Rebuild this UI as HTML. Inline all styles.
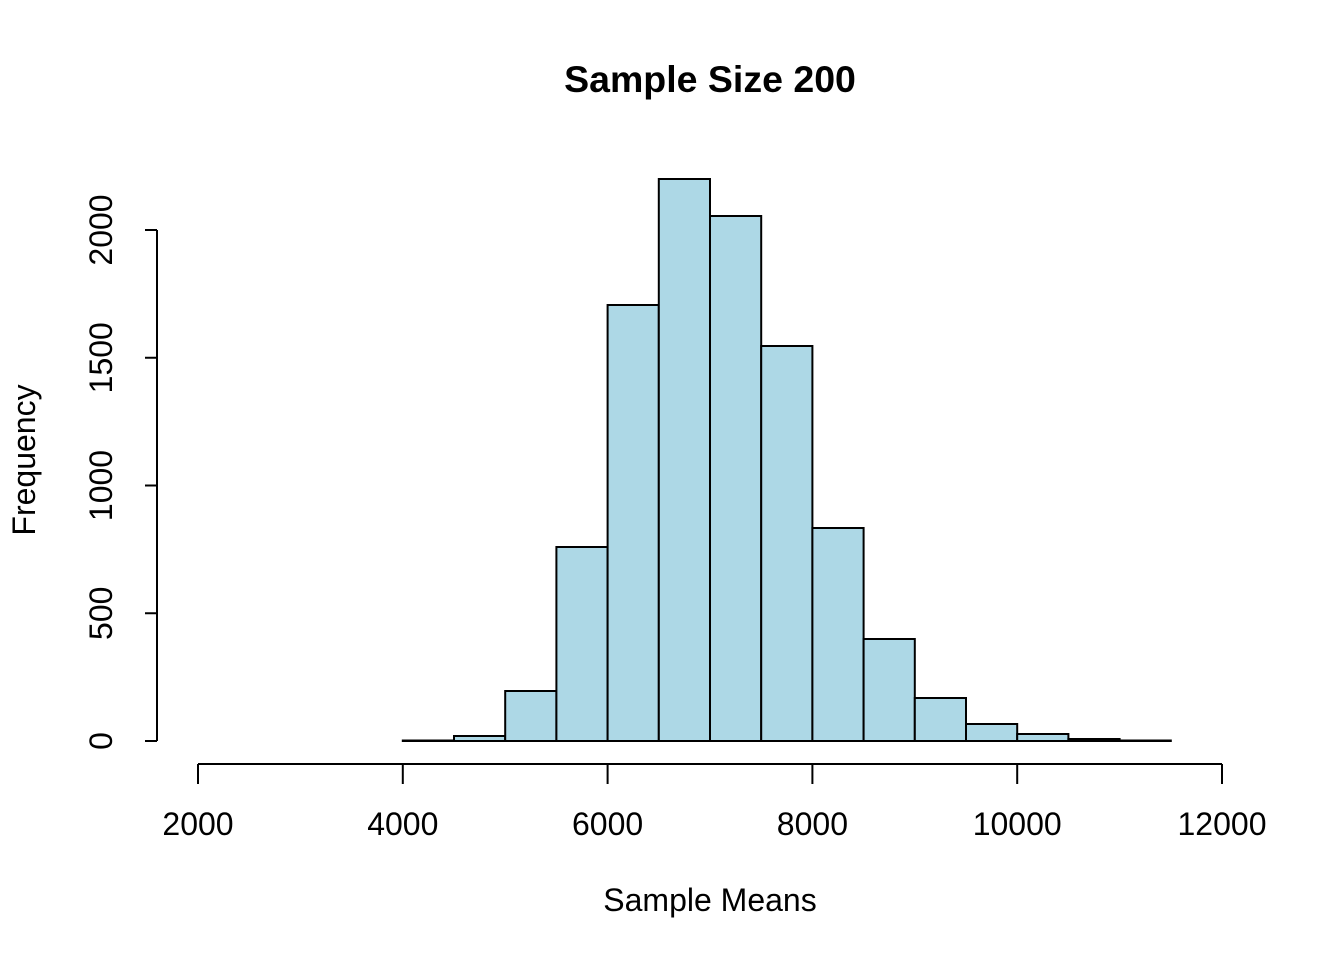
<!DOCTYPE html>
<html><head><meta charset="utf-8"><style>body{margin:0;background:#fff}</style></head><body>
<svg width="1344" height="960" xmlns="http://www.w3.org/2000/svg" font-family="Liberation Sans, Arial, sans-serif">
<rect width="1344" height="960" fill="#fff"/>
<text x="710" y="92" font-size="37.5" font-weight="bold" text-anchor="middle">Sample Size 200</text>
<g fill="#add8e6" stroke="#000" stroke-width="2">
<rect x="402.8" y="740.5" width="51.2" height="0.5"/>
<rect x="454" y="736" width="51.2" height="5"/>
<rect x="505.2" y="691" width="51.2" height="50"/>
<rect x="556.4" y="547" width="51.2" height="194"/>
<rect x="607.6" y="305" width="51.2" height="436"/>
<rect x="658.8" y="179" width="51.2" height="562"/>
<rect x="710" y="216" width="51.2" height="525"/>
<rect x="761.2" y="346" width="51.2" height="395"/>
<rect x="812.4" y="528" width="51.2" height="213"/>
<rect x="863.6" y="639" width="51.2" height="102"/>
<rect x="914.8" y="698" width="51.2" height="43"/>
<rect x="966" y="724" width="51.2" height="17"/>
<rect x="1017.2" y="734" width="51.2" height="7"/>
<rect x="1068.4" y="739" width="51.2" height="2"/>
<rect x="1119.6" y="740.5" width="51.2" height="0.5"/>
</g>
<g stroke="#000" stroke-width="2" fill="none">
<line x1="157" y1="230" x2="157" y2="741"/>
<line x1="145" y1="741" x2="157" y2="741"/>
<line x1="145" y1="613.25" x2="157" y2="613.25"/>
<line x1="145" y1="485.5" x2="157" y2="485.5"/>
<line x1="145" y1="357.75" x2="157" y2="357.75"/>
<line x1="145" y1="230" x2="157" y2="230"/>
<line x1="198" y1="764" x2="1222" y2="764"/>
<line x1="198" y1="764" x2="198" y2="784"/>
<line x1="402.8" y1="764" x2="402.8" y2="784"/>
<line x1="607.6" y1="764" x2="607.6" y2="784"/>
<line x1="812.4" y1="764" x2="812.4" y2="784"/>
<line x1="1017.2" y1="764" x2="1017.2" y2="784"/>
<line x1="1222" y1="764" x2="1222" y2="784"/>
</g>
<g font-size="32" text-anchor="middle">
<text x="198" y="835">2000</text>
<text x="402.8" y="835">4000</text>
<text x="607.6" y="835">6000</text>
<text x="812.4" y="835">8000</text>
<text x="1017.2" y="835">10000</text>
<text x="1222" y="835">12000</text>
<text transform="translate(112,741) rotate(-90)">0</text>
<text transform="translate(112,613.25) rotate(-90)">500</text>
<text transform="translate(112,485.5) rotate(-90)">1000</text>
<text transform="translate(112,357.75) rotate(-90)">1500</text>
<text transform="translate(112,230) rotate(-90)">2000</text>
<text x="710" y="911">Sample Means</text>
<text transform="translate(35,460) rotate(-90)">Frequency</text>
</g>
</svg>
</body></html>
